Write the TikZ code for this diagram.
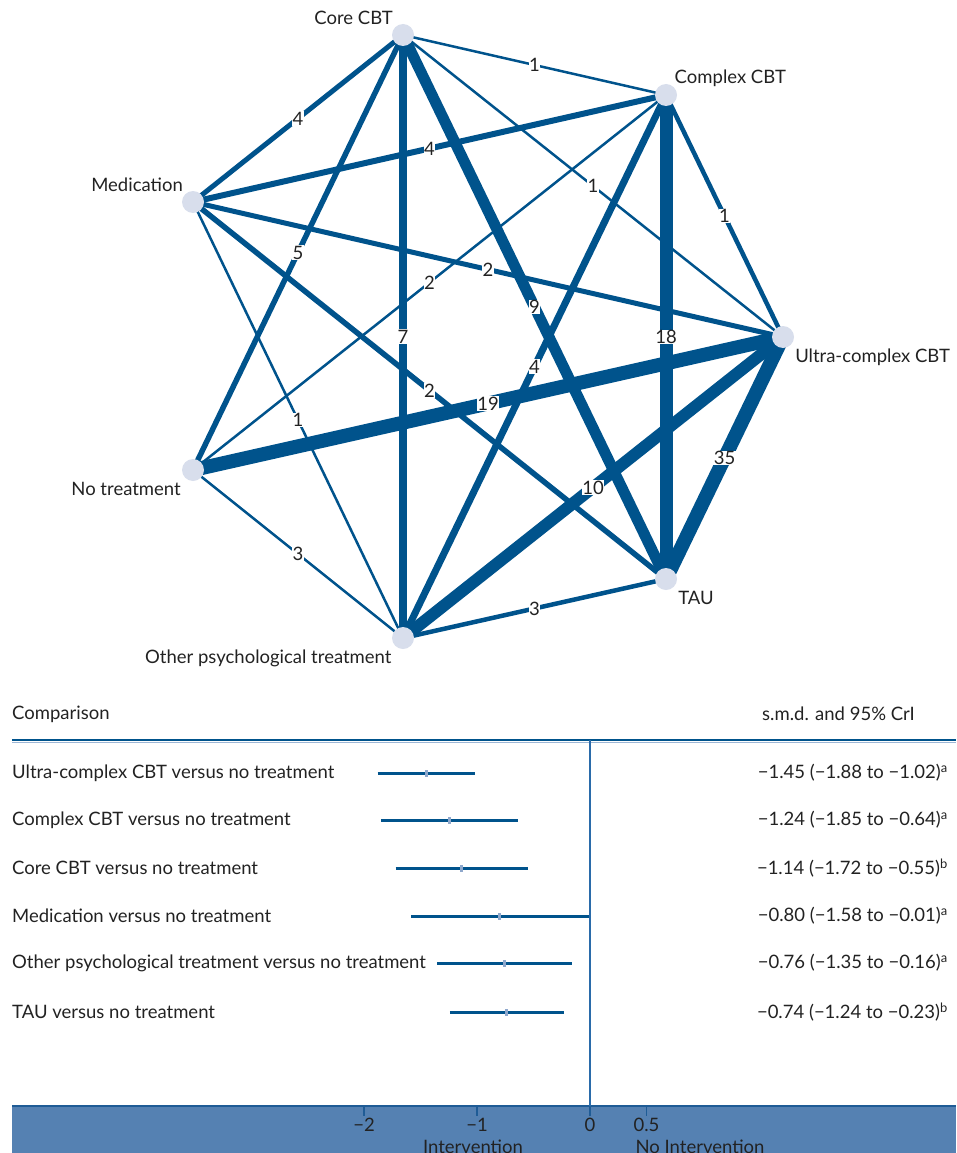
\documentclass[tikz,border=0pt]{standalone}
\usepackage{fontspec}
\setmainfont{Lato}
\usetikzlibrary{backgrounds, calc}

\definecolor{linkblue}{HTML}{00538C}
\definecolor{nodegrey}{HTML}{D8DEEC}
\definecolor{txtgrey}{HTML}{222222}
\definecolor{bandblue}{HTML}{5581B2}
\definecolor{bandline}{HTML}{1F5C96}
\definecolor{zeroblue}{HTML}{2A6BAA}
\definecolor{estblue}{HTML}{8FA8CC}
\definecolor{hlight}{HTML}{9DB7D6}

\tikzset{
  trt/.style={circle, fill=nodegrey, minimum size=22pt, inner sep=0pt},
  lbl/.style={font=\fontsize{18.5}{21}\selectfont, text=txtgrey, inner sep=2pt},
  num/.style={font=\fontsize{18.5}{21}\selectfont, text=txtgrey, fill=white,
    inner sep=0.6pt, text height=13pt, text depth=0pt},
  lnk/.style={draw=linkblue},
  ci/.style={draw=linkblue, line width=3pt},
  est/.style={fill=estblue, inner sep=0pt, minimum width=3pt, minimum height=7pt},
  tick/.style={draw=bandline, line width=1.5pt}
}

\begin{document}
\begin{tikzpicture}[x=1pt, y=-1pt]
\useasboundingbox (0,0) rectangle (956,1153);

% network of treatments
\node[trt, label={[lbl]above left:Core CBT}] (core) at (403,35) {};
\node[trt, label={[lbl, label distance=-2pt]above right:Complex CBT}] (cplx) at (666,95) {};
\node[trt, label={[lbl, label distance=3pt]below right:Ultra-complex CBT}] (ultra) at (783,337) {};
\node[trt, label={[lbl, label distance=3pt]below right:TAU}] (tau) at (666,579) {};
\node[trt, label={[lbl, label distance=2pt]below left:Other psychological treatment}] (oth) at (403,638) {};
\node[trt, label={[lbl, label distance=3pt]below left:No treatment}] (notrt) at (193,470) {};
\node[trt, label={[lbl]above left:Medication}] (med) at (193,202) {};

\begin{pgfonlayer}{background}
\foreach \a/\b/\w/\n in {core/cplx/2.5/1, core/med/5/4, core/oth/8/7, core/tau/11/9,
    core/ultra/2.5/1, core/notrt/5.5/5, cplx/med/6/4, cplx/tau/13/18,
    cplx/ultra/4.5/1, cplx/notrt/2.5/2, cplx/oth/7/4, med/ultra/5/2,
    med/tau/5.5/2, med/oth/2.5/1, notrt/ultra/14/19, notrt/oth/2.5/3,
    ultra/oth/12/10, ultra/tau/14/35, tau/oth/4.5/3}
  \draw[lnk, line width=\w pt] (\a.center) -- node[num]{\n} (\b.center);
\end{pgfonlayer}

% forest plot
\node[lbl, anchor=west] (cmp) at (10,714) {Comparison};
\node[lbl, anchor=west] (smd) at (760,714) {s.m.d. and 95\% CrI};
\draw[hlight, line width=1pt] (12,742) -- (956,742);
\draw[linkblue, line width=2pt] (12,740) -- (956,740);

\fill[bandblue] (12,1106) rectangle (956,1153);
\draw[bandline, line width=2pt] (12,1106) -- (956,1106);
\draw[zeroblue, line width=1.5pt] (590,740) -- (590,1106);

\foreach \v/\t in {-2/−2, -1/−1, 0/0, 0.5/0.5}
  \draw[tick] ({590+113*\v},1106) -- ++(0,10) node[lbl, below, inner sep=1pt] {\t};
\node[lbl] (intv) at (473,1147) {Intervention};
\node[lbl] (nointv) at (700,1147) {No Intervention};

\foreach \y/\txt/\lo/\m/\hi/\res in {
    773/Ultra-complex CBT versus no treatment/-1.88/-1.45/-1.02/{−1.45 (−1.88 to −1.02)\textsuperscript{a}},
    820/Complex CBT versus no treatment/-1.85/-1.24/-0.64/{−1.24 (−1.85 to −0.64)\textsuperscript{a}},
    868/Core CBT versus no treatment/-1.72/-1.14/-0.55/{−1.14 (−1.72 to −0.55)\textsuperscript{b}},
    916/Medication versus no treatment/-1.58/-0.80/-0.01/{−0.80 (−1.58 to −0.01)\textsuperscript{a}},
    963/Other psychological treatment versus no treatment/-1.35/-0.76/-0.16/{−0.76 (−1.35 to −0.16)\textsuperscript{a}},
    1012/TAU versus no treatment/-1.24/-0.74/-0.23/{−0.74 (−1.24 to −0.23)\textsuperscript{b}}}
{
  \node[lbl, anchor=west] at (10,\y) {\txt};
  \draw[ci] ({590+113*\lo},\y) -- ({590+113*\hi},\y);
  \node[est] at ({590+113*\m},\y) {};
  \node[lbl, anchor=east] at (950,\y) {\res};
}
\end{tikzpicture}
\end{document}
